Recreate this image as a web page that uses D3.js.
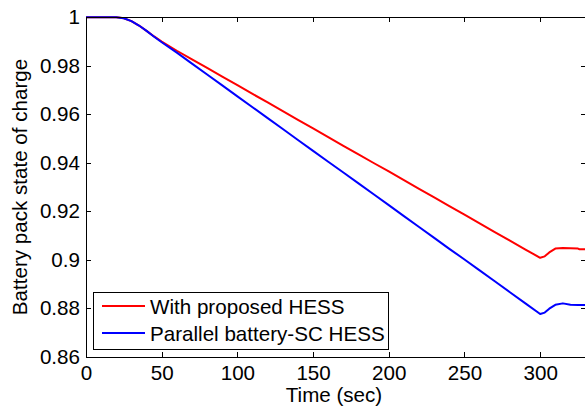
<!DOCTYPE html>
<html>
<head>
<meta charset="utf-8">
<script src="https://cdn.jsdelivr.net/npm/d3@7"></script>
<style>
  body { margin: 0; background: #fff; }
  svg { display: block; }
  text { font-family: "Liberation Sans", Arial, sans-serif; }
</style>
</head>
<body>
<div id="chart"></div>
<script>
// ----- data -----
const times = [0, 10, 20, 25, 30, 35, 40, 45, 50, 60, 70, 80, 90, 100, 110, 120, 130, 140, 150,
  160, 170, 180, 190, 200, 210, 220, 230, 240, 250, 260, 270, 280, 290, 300,
  303, 306, 310, 315, 320, 325, 326, 330];

const socProposed = [1, 1, 1, 0.9996, 0.9984, 0.9966, 0.9944, 0.9921, 0.9900, 0.9862, 0.9826, 0.9791,
  0.9755, 0.9720, 0.9684, 0.9649, 0.9613, 0.9577, 0.9542, 0.9506, 0.9470, 0.9435, 0.9399, 0.9364,
  0.9328, 0.9292, 0.9257, 0.9221, 0.9186, 0.9150, 0.9114, 0.9079, 0.9043, 0.9008,
  0.9014, 0.9030, 0.9046, 0.9048, 0.9047, 0.9046, 0.9043, 0.9043];

const socParallel = [1, 1, 1, 0.9996, 0.9984, 0.9966, 0.9944, 0.9920, 0.9897, 0.9854, 0.9809, 0.9764,
  0.9719, 0.9674, 0.9629, 0.9584, 0.9539, 0.9494, 0.9449, 0.9404, 0.9360, 0.9315, 0.9270, 0.9225,
  0.9180, 0.9135, 0.9090, 0.9045, 0.9001, 0.8956, 0.8911, 0.8866, 0.8821, 0.8776,
  0.8782, 0.8798, 0.8814, 0.8820, 0.8814, 0.8813, 0.8813, 0.8813];

const xTicks = [0, 50, 100, 150, 200, 250, 300];
const yTicks = [0.86, 0.88, 0.9, 0.92, 0.94, 0.96, 0.98, 1];
const seriesNames = ["With proposed HESS", "Parallel battery-SC HESS"];
const seriesColors = ["#ff0000", "#0000ff"];

// ----- layout -----
const svgWidth = 585, svgHeight = 409;
const plot = { left: 86, right: 585.6, top: 17.3, bottom: 356.7 };
const fontSize = "20.6px";

const svg = d3.select("#chart").append("svg")
  .attr("width", svgWidth)
  .attr("height", svgHeight);

const x = d3.scaleLinear().domain([0, 330]).range([plot.left, plot.right]);
const y = d3.scaleLinear().domain([0.86, 1]).range([plot.bottom, plot.top]);

// ----- lines -----
const line = d3.line()
  .x((d, i) => x(times[i]))
  .y(d => y(d));

[socProposed, socParallel].forEach((s, k) => {
  svg.append("path")
    .datum(s)
    .attr("fill", "none")
    .attr("stroke", seriesColors[k])
    .attr("stroke-width", 2)
    .attr("stroke-linejoin", "round")
    .attr("d", line);
});

// ----- axes (box with inward ticks) -----
const fmtY = d => String(+d.toFixed(2));

const bottomAxis = d3.axisBottom(x).tickValues(xTicks).tickSizeInner(-5).tickSizeOuter(0).tickPadding(9);
const leftAxis = d3.axisLeft(y).tickValues(yTicks).tickSizeInner(-5).tickSizeOuter(0).tickPadding(6).tickFormat(fmtY);
const topAxis = d3.axisTop(x).tickValues(xTicks).tickSizeInner(-5).tickSizeOuter(0).tickFormat("");
const rightAxis = d3.axisRight(y).tickValues(yTicks).tickSizeInner(-5).tickSizeOuter(0).tickFormat("");

function styleAxis(g) {
  g.selectAll("path, line").attr("stroke", "#000").attr("shape-rendering", "crispEdges");
  g.selectAll("text").style("font-size", fontSize).attr("fill", "#000");
}

svg.append("g").attr("transform", `translate(0,${plot.bottom})`).call(bottomAxis).call(styleAxis);
svg.append("g").attr("transform", `translate(${plot.left},0)`).call(leftAxis).call(styleAxis);
svg.append("g").attr("transform", `translate(0,${plot.top})`).call(topAxis).call(styleAxis);
svg.append("g").attr("transform", `translate(${plot.right},0)`).call(rightAxis).call(styleAxis);

// ----- axis titles -----
svg.append("text")
  .attr("x", 334)
  .attr("y", 402)
  .attr("text-anchor", "middle")
  .style("font-size", fontSize)
  .text("Time (sec)");

svg.append("text")
  .attr("transform", `translate(27,${(plot.top + plot.bottom) / 2}) rotate(-90)`)
  .attr("text-anchor", "middle")
  .style("font-size", fontSize)
  .text("Battery pack state of charge");

// ----- legend -----
const legend = svg.append("g").attr("transform", "translate(93,292)");
legend.append("rect")
  .attr("x", 0.5).attr("y", 0.5)
  .attr("width", 295).attr("height", 57)
  .attr("fill", "#fff")
  .attr("stroke", "#000")
  .attr("shape-rendering", "crispEdges");

seriesNames.forEach((name, i) => {
  const ly = 14 + i * 27;
  legend.append("line")
    .attr("x1", 9).attr("x2", 52)
    .attr("y1", ly).attr("y2", ly)
    .attr("stroke", seriesColors[i])
    .attr("stroke-width", 2);
  legend.append("text")
    .attr("x", 57)
    .attr("y", ly + 7.5)
    .style("font-size", fontSize)
    .text(name);
});
</script>
</body>
</html>
